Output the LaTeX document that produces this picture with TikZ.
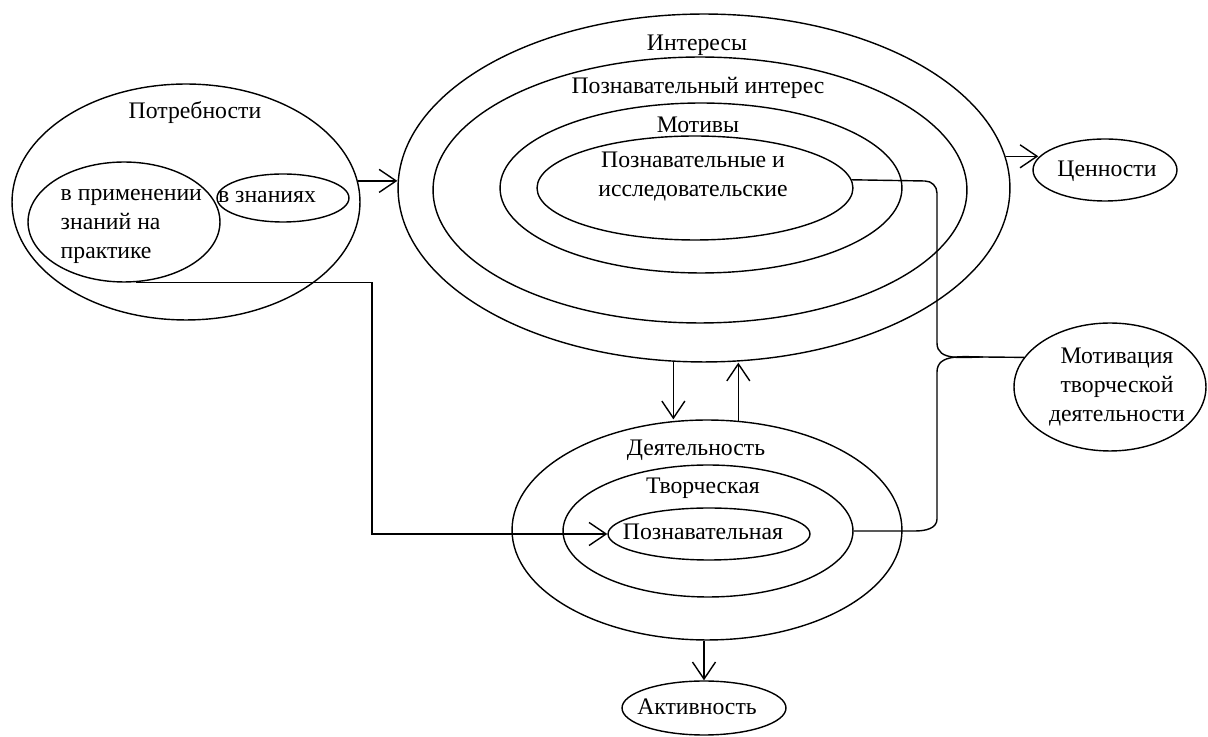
\documentclass[tikz,border=0pt]{standalone}
\usepackage{fontspec}
\setmainfont{Liberation Serif}
\usetikzlibrary{shapes.geometric,arrows.meta}

\tikzset{
    oval/.style={draw, ellipse, inner sep=0pt},
    lbl/.style={inner sep=0pt, align=center},
    arr/.style={-{Straight Barb[length=3.4mm,width=4.6mm]}}
}

\begin{document}
\begin{tikzpicture}[x=0.02cm, y=0.02cm, line width=0.8pt, font=\fontsize{13.5}{16.5}\selectfont]
            \useasboundingbox (0, 0) rectangle (1208, 737);

            % ellipses
            \foreach \name/\x/\y/\w/\h in {potr/186/535/6.96/4.72, prim/124/515/3.84/2.40, znan/283/539/2.64/0.96,
                                           inter/704/549/12.24/6.96, pint/700/547/10.68/5.32, motiv/701/549/8.04/3.40, pis/695/549/6.32/2.08,
                                           deyat/707/207/7.80/4.40, tvor/708/206/5.80/2.64, pozn/709/203/4.04/1.04,
                                           aktiv/704/29/3.28/1.08, cenn/1105/567/2.88/1.24, motc/1110/350/3.84/2.56}
                {
                    \node (\name) at (\x, \y)[oval, minimum width=\w cm, minimum height=\h cm]{};
                }

            % labels
            \node (tpotr) at (195, 624)[lbl]{Потребности};
            \node (tprim) at (60, 511)[lbl, anchor=west, align=left]{в применении\\знаний на\\практике};
            \node (tznan) at (267, 540)[lbl]{в знаниях};
            \node (tinter) at (697, 692)[lbl]{Интересы};
            \node (tpint) at (698, 649)[lbl]{Познавательный интерес};
            \node (tmotiv) at (698, 612)[lbl]{Мотивы};
            \node (tpis) at (693, 560)[lbl]{Познавательные и\\исследовательские};
            \node (tdeyat) at (696, 287)[lbl]{Деятельность};
            \node (ttvor) at (703, 249)[lbl]{Творческая};
            \node (tpozn) at (703, 205)[lbl]{Познавательная};
            \node (taktiv) at (697, 30)[lbl]{Активность};
            \node (tcenn) at (1107, 566)[lbl]{Ценности};
            \node (tmotc) at (1117, 350)[lbl]{Мотивация\\творческой\\деятельности};

            \coordinate (turn) at (372, 203);
            \coordinate (brace) at (983, 380);

            % connectors
            \draw[arr] (potr.7) -- (potr.7 -| inter.west);
            \draw[arr] (inter.6) -- ([xshift=0.12cm]inter.6 -| cenn.west);
            \draw[arr] (inter.260) -- (inter.260 |- deyat.north);
            \draw[arr] (deyat.74) -- (deyat.74 |- inter.south);
            \draw[arr] (aktiv.north |- deyat.south) -- (aktiv.north);
            \draw[arr] (prim.281) -| (turn) -- (pozn.west);

            \draw (pis.3) -- (925, 556) to[out=0, in=90] (937, 544) -- (937, 394) to[out=-90, in=180] (brace) -- (motc.161);
            \draw (tvor.east) -- (915, 206) to[out=0, in=-90] (937, 218) -- (937, 365) to[out=90, in=180] (brace);
        \end{tikzpicture}
\end{document}
